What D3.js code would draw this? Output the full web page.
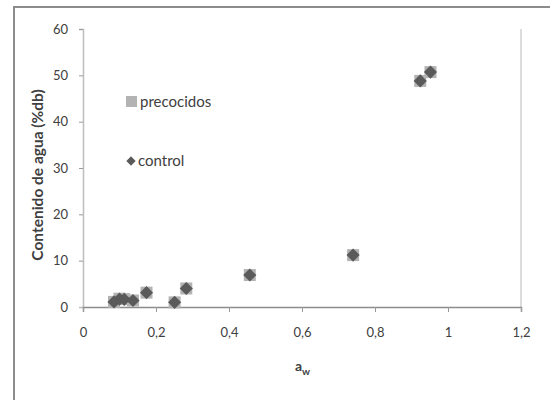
<!DOCTYPE html>
<html lang="es">
  <head>
    <meta charset="UTF-8" />
    <title>Contenido de agua vs aw</title>
    <script src="https://cdn.jsdelivr.net/npm/d3@7"></script>
    <style>
      body { margin: 0; background: #fff; }
      text { font-family: Lato, 'Open Sans', sans-serif; fill: #404040; }
    </style>
  </head>
  <body>
    <div id="chart_svg"></div>
    <script>
      // values
      const aw = [0.085, 0.1, 0.113, 0.137, 0.174, 0.251, 0.283, 0.457, 0.74, 0.924, 0.952]
      const precocidos = [1.1, 1.8, 1.7, 1.4, 3.1, 1.0, 4.0, 6.9, 11.2, 48.8, 50.7]
      const control = [1.1, 1.7, 1.65, 1.4, 3.1, 1.0, 4.0, 6.9, 11.2, 48.8, 50.7]
      const xTicks = [0, 0.2, 0.4, 0.6, 0.8, 1, 1.2]
      const yTicks = [0, 10, 20, 30, 40, 50, 60]

      const width = 550
      const height = 400
      const margin = { top: 29, right: 29, bottom: 93, left: 83 }

      const svg = d3
        .select('#chart_svg')
        .append('svg')
        .attr('width', width)
        .attr('height', height)

      // outer frame (only top and left edges fall inside the picture)
      svg.append('path')
        .attr('d', `M14,${height} V7 H${width}`)
        .attr('fill', 'none')
        .attr('stroke', '#8c8c8c')
        .attr('stroke-width', 2)

      const x = d3.scaleLinear().domain([0, 1.2]).range([margin.left, width - margin.right])
      const y = d3.scaleLinear().domain([0, 60]).range([height - margin.bottom, margin.top])

      const fmt = d => String(d).replace('.', ',')

      // right edge of plot area
      svg.append('line')
        .attr('x1', x(1.2)).attr('x2', x(1.2))
        .attr('y1', y(60)).attr('y2', y(0))
        .attr('stroke', '#d0d0d0')
        .attr('stroke-width', 1.5)

      const yAxis = svg.append('g')
        .attr('transform', `translate(${margin.left},0)`)
        .call(d3.axisLeft(y).tickValues(yTicks).tickFormat(fmt).tickSize(4).tickPadding(11))
      yAxis.select('.domain').attr('stroke', '#bdbdbd').attr('stroke-width', 1.5)
      yAxis.selectAll('.tick line').attr('stroke', '#9a9a9a')
      yAxis.selectAll('text').attr('font-size', 13).attr('fill', '#505050').attr('font-family', 'Lato, sans-serif')
      yAxis.select('.tick:first-of-type line').remove()

      const xAxis = svg.append('g')
        .attr('transform', `translate(0,${y(0)})`)
        .call(d3.axisBottom(x).tickValues(xTicks).tickFormat(fmt).tickSize(5).tickPadding(16))
      xAxis.select('.domain').attr('stroke', '#8c8c8c').attr('stroke-width', 1.5)
      xAxis.selectAll('.tick line').attr('stroke', '#9a9a9a')
      xAxis.selectAll('text').attr('font-size', 13).attr('fill', '#505050').attr('font-family', 'Lato, sans-serif')

      // axis titles
      const xt = svg.append('text')
        .attr('x', 295).attr('y', 371)
        .attr('font-size', 14)
        .attr('font-weight', 'bold')
      xt.append('tspan').text('a')
      xt.append('tspan').attr('dy', 4).attr('font-size', 10).text('w')

      svg.append('text')
        .attr('transform', `translate(43,175) rotate(-90)`)
        .attr('text-anchor', 'middle')
        .attr('font-size', 15.5)
        .attr('font-weight', 'bold')
        .attr('fill', '#333')
        .text('Contenido de agua (%db)')

      const sq = 12
      const diamond = d3.symbol().type(d3.symbolDiamond2).size(110)

      // precocidos squares (behind)
      svg.append('g')
        .selectAll('rect')
        .data(precocidos)
        .join('rect')
        .attr('x', (d, i) => x(aw[i]) - sq / 2)
        .attr('y', d => y(d) - sq / 2)
        .attr('width', sq)
        .attr('height', sq)
        .attr('fill', '#b3b3b3')

      // control diamonds
      svg.append('g')
        .selectAll('path')
        .data(control)
        .join('path')
        .attr('d', diamond)
        .attr('transform', (d, i) => `translate(${x(aw[i])},${y(d)})`)
        .attr('fill', '#5a5a5a')

      // legend
      const lg = svg.append('g')
      lg.append('rect')
        .attr('x', 126).attr('y', 96).attr('width', 11).attr('height', 11)
        .attr('fill', '#b3b3b3')
      lg.append('text')
        .attr('x', 140).attr('y', 107)
        .attr('font-size', 15)
        .attr('fill', '#505050')
        .text('precocidos')
      lg.append('path')
        .attr('d', d3.symbol().type(d3.symbolDiamond2).size(55))
        .attr('transform', 'translate(131,161)')
        .attr('fill', '#5a5a5a')
      lg.append('text')
        .attr('x', 138).attr('y', 166)
        .attr('font-size', 15)
        .attr('fill', '#505050')
        .text('control')
    </script>
  </body>
</html>
